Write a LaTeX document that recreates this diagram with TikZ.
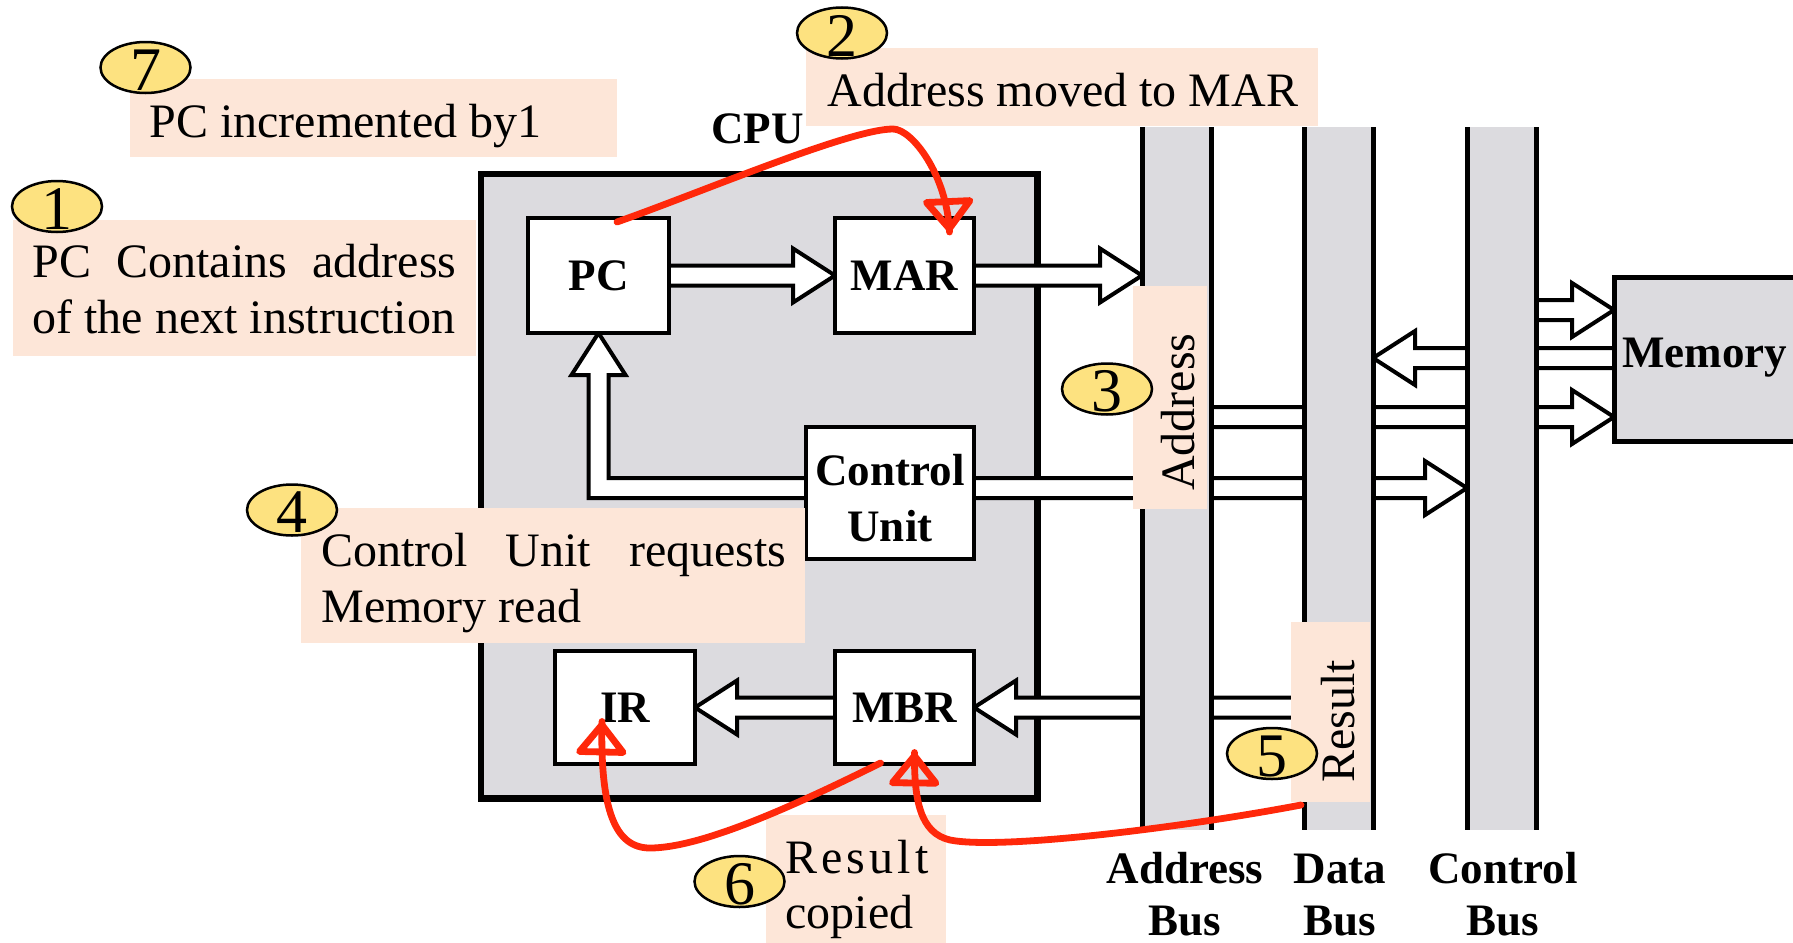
\documentclass[tikz,border=0pt]{standalone}
\usepackage{fontspec}
\setmainfont{Liberation Serif}
\usetikzlibrary{calc,arrows.meta,decorations.markings,shapes.geometric}

\definecolor{panel}{RGB}{220,219,223}
\definecolor{notefill}{RGB}{253,230,216}
\definecolor{badgefill}{RGB}{253,226,128}
\definecolor{flowred}{RGB}{255,40,10}

\newcommand\regtext{\fontsize{24}{28}\selectfont}
\newcommand\boldtext{\fontsize{22.5}{28}\selectfont\bfseries}
\newcommand\digittext{\fontsize{31}{31}\selectfont}

\pgfdeclarelayer{cpulayer}
\pgfdeclarelayer{arrowlayer}
\pgfsetlayers{cpulayer,arrowlayer,main}

\tikzset{
  regbox/.style={draw, line width=2.25pt, fill=white, inner sep=0pt, outer sep=0pt,
    font=\boldtext, align=center},
  hollowarrow/.style={draw=black, fill=white, line width=2pt},
  busband/.style={fill=panel, inner sep=0pt, outer sep=0pt, minimum width=34.5pt,
    minimum height=351.5pt, anchor=north west},
  busline/.style={line width=2.5pt},
  noteback/.style={fill=notefill, inner sep=0pt, outer sep=0pt, anchor=north west},
  notetext/.style={font=\regtext, inner sep=0pt, anchor=base west},
  boldlabel/.style={font=\boldtext, inner sep=0pt},
  badge/.style={ellipse, draw, line width=1.25pt, fill=badgefill, minimum width=45pt,
    minimum height=25.5pt, inner sep=0pt,
    label={[font=\digittext, inner sep=0pt, yshift=-1.25pt]center:#1}},
  flowcurve/.style={flowred, line width=3.4pt, line cap=round, line join=round,
    postaction={decorate},
    decoration={markings, mark=at position 1 with
      {\arrow{Triangle[open, round, length=18pt, width=28pt]}}}},
}

% hollow block arrow from a start point to a tip point (horizontal)
\newcommand\blockarrow[2]{%
  \filldraw[hollowarrow] let \p1=#1, \p2=#2, \n1={sign(\x2-\x1)} in
    (\x1,{\y2+5pt}) -- ({\x2-(\n1)*21pt},{\y2+5pt}) -- ({\x2-(\n1)*21pt},{\y2+13.5pt})
    -- (\p2) -- ({\x2-(\n1)*21pt},{\y2-13.5pt}) -- ({\x2-(\n1)*21pt},{\y2-5pt})
    -- (\x1,{\y2-5pt});}

\begin{document}
\begin{tikzpicture}[x=0.5pt, y=-0.5pt]
\useasboundingbox (0,0) rectangle (1793,942);
\clip (0,0) rectangle (1793,942);

% processor outline
\begin{pgfonlayer}{cpulayer}
  \node[draw, line width=3.25pt, fill=panel, inner sep=0pt, outer sep=0pt,
    minimum width=278.25pt, minimum height=312.25pt, anchor=north west] (cpu) at (481,174) {};
\end{pgfonlayer}

% registers and control unit
\node[regbox, minimum width=70.5pt, minimum height=57.5pt] (pc)  at (598.5,275.5) {PC};
\node[regbox, minimum width=69.5pt, minimum height=57.5pt] (mar) at (904.5,275.5) {MAR};
\node[regbox, minimum width=84pt,   minimum height=66pt,
  label={[boldlabel, align=center, yshift=-2.5pt]center:Control\\Unit}] (cu) at (890,493) {};
\node[regbox, minimum width=70pt,   minimum height=56.5pt] (ir)  at (625,707.5) {IR};
\node[regbox, minimum width=69.5pt, minimum height=56.5pt] (mbr) at (904.5,707.5) {MBR};

% system buses
\node[busband] (abus) at (1142,127) {};
\node[busband] (dbus) at (1304,127) {};
\node[busband] (cbus) at (1467,127) {};
\foreach \b in {abus,dbus,cbus}
  \draw[busline] (\b.north west) -- (\b.south west) (\b.north east) -- (\b.south east);

% memory module
\node[draw, line width=2.5pt, fill=panel, inner sep=0pt, outer sep=0pt, anchor=north west,
  minimum width=100pt, minimum height=82pt] (mem) at (1614,277) {};
\node[boldlabel, anchor=base west] (memlabel) at (1622,367) {Memory};

% ports
\coordinate (cuR) at ($(cu.east)+(0,-5)$);
\coordinate (cuL) at ($(cu.west)+(0,-5)$);
\coordinate (m1) at ($(mem.west)+(0,-49)$);
\coordinate (m2) at ($(mem.west)+(0,-1)$);
\coordinate (m3) at ($(mem.west)+(0,58)$);

% data paths
\begin{pgfonlayer}{arrowlayer}
  \blockarrow{(pc.east)}{(mar.west)}
  \blockarrow{(mar.east)}{(abus.west |- mar.east)}
  \blockarrow{(cuR)}{(cbus.west |- cuR)}
  \blockarrow{(dbus.west |- mbr.east)}{(mbr.east)}
  \blockarrow{(mbr.west)}{(ir.east)}
  \blockarrow{(cbus.east |- m1)}{(m1)}
  \blockarrow{(m2)}{(dbus.east |- m2)}
  \blockarrow{(abus.east |- m3)}{(m3)}
  \filldraw[hollowarrow] let \p1=(cuL), \p2=(pc.south) in
    (\x1,{\y1+5pt}) -- ({\x2+5pt},{\y1+5pt}) -- ({\x2+5pt},{\y2-21pt})
    -- ({\x2+13.5pt},{\y2-21pt}) -- (\p2) -- ({\x2-13.5pt},{\y2-21pt})
    -- ({\x2-5pt},{\y2-21pt}) -- ({\x2-5pt},{\y1-5pt}) -- (\x1,{\y1-5pt});
\end{pgfonlayer}

% step notes
\node[noteback, minimum width=243.5pt, minimum height=39pt] (note7) at (130,79) {};
\node[notetext] (t7) at (149,137) {PC incremented by1};

\node[noteback, minimum width=231.5pt, minimum height=68pt] (note1) at (13,220) {};
\node[notetext] (t1a) at (32,277) {\makebox[212pt][s]{PC Contains address}};
\node[notetext] (t1b) at (32,333) {of the next instruction};

\node[noteback, minimum width=256pt, minimum height=39pt] (note2) at (806,48) {};
\node[notetext] (t2) at (827,106) {Address moved to MAR};

\node[noteback, minimum width=252pt, minimum height=67.5pt] (note4) at (301,508) {};
\node[notetext] (t4a) at (321,566) {\makebox[232.5pt][s]{Control Unit requests}};
\node[notetext] (t4b) at (321,622) {Memory read};

\node[noteback, minimum width=90pt, minimum height=70pt] (note6) at (766,815) {};
\node[notetext] (t6a) at (785,873) {\hbox to 71.5pt{R\hfil e\hfil s\hfil u\hfil l\hfil t}};
\node[notetext] (t6b) at (785,928) {copied};

\node[noteback, minimum width=37pt, minimum height=111.5pt] (addrnote) at (1133,286) {};
\node[notetext, rotate=90, anchor=base] (t3) at (1194,412) {Address};

\node[noteback, minimum width=39.5pt, minimum height=90pt] (resnote) at (1291,622) {};
\node[notetext, rotate=90, anchor=base] (t5) at (1354,721) {Result};

% step numbers
\node[badge=7] (b7) at (145.5,67.5) {};
\node[badge=1] (b1) at (57,206.5) {};
\node[badge=2] (b2) at (842,33) {};
\node[badge=3] (b3) at (1107,389) {};
\node[badge=4] (b4) at (292,510) {};
\node[badge=5] (b5) at (1272,753.5) {};
\node[badge=6] (b6) at (739.5,881.5) {};

% captions
\node[boldlabel, anchor=base west] (cpulabel) at (711,143) {CPU};
\node[boldlabel, anchor=base] (ab1) at (1185,883) {Address};
\node[boldlabel, anchor=base] (ab2) at (1185,935) {Bus};
\node[boldlabel, anchor=base] (db1) at (1340,883) {Data};
\node[boldlabel, anchor=base] (db2) at (1340,935) {Bus};
\node[boldlabel, anchor=base] (cb1) at (1503,883) {Control};
\node[boldlabel, anchor=base] (cb2) at (1503,935) {Bus};

% transfer steps
\draw[flowcurve] ($(pc.north east)+(-52,4)$) .. controls (702,192) and (850,129) .. (893,129)
  .. controls (912,129) and (947,175) .. ($(mar.north)+(45,14)$);
\draw[flowcurve] ($(mbr.south)+(-24,-1)$) .. controls (790,808) and (700,848) .. (650,848)
  .. controls (615,848) and (600,810) .. ($(ir.center)+(-23,14)$);
\draw[flowcurve] ($(resnote.south west)+(10,3)$) .. controls (1180,828) and (1000,850) .. (950,840)
  .. controls (920,833) and (914,800) .. ($(mbr.center)+(10,45)$);
\end{tikzpicture}
\end{document}
